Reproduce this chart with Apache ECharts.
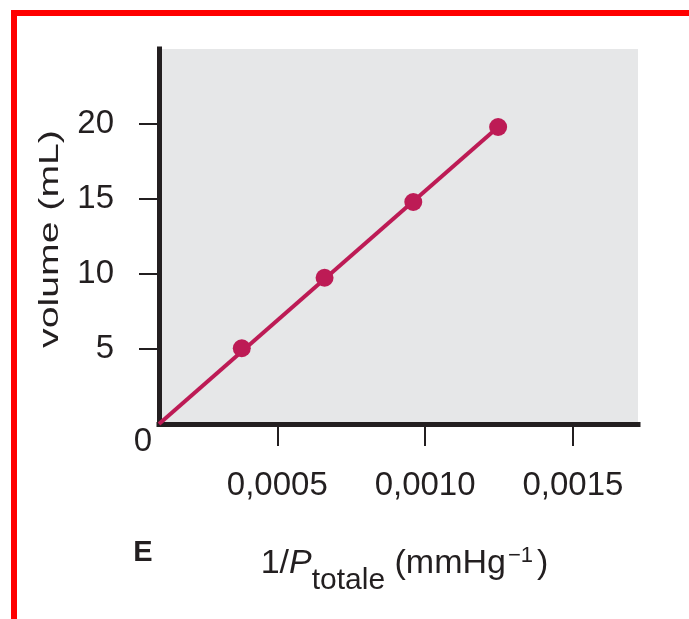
<!DOCTYPE html>
<html><head><meta charset="utf-8">
<script src="https://cdn.jsdelivr.net/npm/echarts@6/dist/echarts.min.js"></script>
<style>html,body{margin:0;padding:0;background:#fff}#c{width:689px;height:619px}</style>
</head><body><div id="c"></div>
<script>
// data
const pointsX = [0.00038, 0.00066, 0.00096, 0.001247];
const pointsY = [5.05, 9.75, 14.8, 19.8];
const fitX = [0.0001, 0.001247];
const fitY = [0, 19.8];
const xTicks = [0.0005, 0.0010, 0.0015];
const yTicks = [5, 10, 15, 20];
const xRange = [0.0001, 0.00172];
const yRange = [0, 25];

const INK = '#231f20';
const ACC = '#bd1b55';
const FONT = '"Liberation Sans", Arial, sans-serif';

const chart = echarts.init(document.getElementById('c'), null, {renderer: 'canvas'});
chart.setOption({
  animation: false,
  backgroundColor: '#ffffff',
  grid: {left: 159, right: 51, top: 49, bottom: 195, show: true, backgroundColor: '#e6e7e8', borderWidth: 0, containLabel: false, outerBoundsMode: 'none'},
  xAxis: {
    type: 'value', min: xRange[0], max: xRange[1],
    splitLine: {show: false},
    axisLine: {show: true, onZero: false, lineStyle: {color: INK, width: 5, cap: 'square'}},
    axisTick: {show: true, customValues: xTicks, length: 22, lineStyle: {color: INK, width: 2}},
    axisLabel: {show: true, customValues: xTicks, margin: 45, color: INK, fontSize: 33, fontFamily: FONT,
      formatter: v => v.toFixed(4).replace('.', ',')},
    name: '{a|1/}{i|P}{s|totale}{a| (mmHg}{p|\u22121}{a|)}',
    nameLocation: 'middle', nameGap: 108,
    nameTextStyle: {
      color: INK, fontFamily: FONT, padding: [0, 0, 0, 12],
      rich: {
        a: {fontSize: 34, fontFamily: FONT, color: INK, lineHeight: 64},
        i: {fontSize: 34, fontFamily: FONT, fontStyle: 'italic', color: INK, lineHeight: 64},
        s: {fontSize: 30, fontFamily: FONT, color: INK, lineHeight: 30, verticalAlign: 'bottom'},
        p: {fontSize: 22, fontFamily: FONT, color: INK, verticalAlign: 'top', padding: [13, 4, 0, 2]}
      }
    }
  },
  yAxis: {
    type: 'value', min: yRange[0], max: yRange[1],
    splitLine: {show: false},
    axisLine: {show: true, onZero: false, lineStyle: {color: INK, width: 5, cap: 'square'}},
    axisTick: {show: true, customValues: yTicks, length: 20, lineStyle: {color: INK, width: 2}},
    axisLabel: {show: true, customValues: yTicks, margin: 45, color: INK, fontSize: 33, fontFamily: FONT}
  },
  graphic: [
    {type: 'rect', silent: true, z: 100, shape: {x: 14, y: 13, width: 900, height: 900},
      style: {fill: 'none', stroke: '#ff0000', lineWidth: 6}},
    {type: 'text', x: 50, y: 239, rotation: Math.PI / 2, scaleX: 1.4, scaleY: 1,
      style: {text: 'volume (mL)', font: '28px ' + FONT, fill: INK, align: 'center', verticalAlign: 'middle'}},
    {type: 'text', x: 143, y: 442,
      style: {text: '0', font: '33px ' + FONT, fill: INK, align: 'center', verticalAlign: 'middle'}},
    {type: 'text', x: 143, y: 553,
      style: {text: 'E', font: 'bold 29px ' + FONT, fill: INK, align: 'center', verticalAlign: 'middle'}}
  ],
  series: [
    {type: 'line', data: fitX.map((x, i) => [x, fitY[i]]), symbol: 'none',
      lineStyle: {color: ACC, width: 4}, z: 2},
    {type: 'scatter', data: pointsX.map((x, i) => [x, pointsY[i]]), symbol: 'circle', symbolSize: 18,
      itemStyle: {color: ACC, opacity: 1}, z: 3}
  ]
});
</script>
</body></html>
